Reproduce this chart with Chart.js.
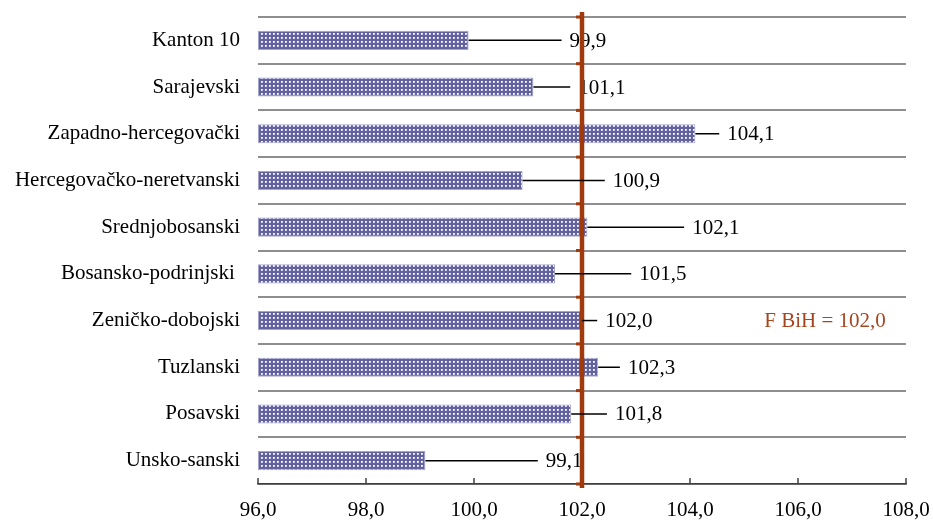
<!DOCTYPE html>
<html>
<head>
<meta charset="utf-8">
<script src="https://cdn.jsdelivr.net/npm/chart.js@4.4.1/dist/chart.umd.min.js"></script>
<style>
    html, body { margin: 0; padding: 0; background: #fff; }
</style>
</head>
<body>
<canvas id="myChart" width="933" height="521"></canvas>
<script>
    "use strict";

    var cantons = ['Kanton 10', 'Sarajevski', 'Zapadno-hercegovački', 'Hercegovačko-neretvanski',
        'Srednjobosanski', 'Bosansko-podrinjski ', 'Zeničko-dobojski', 'Tuzlanski', 'Posavski', 'Unsko-sanski'];
    var indexValues = [99.9, 101.1, 104.1, 100.9, 102.1, 101.5, 102.0, 102.3, 101.8, 99.1];
    // where each value label starts, in axis units (labels were moved by hand in the original)
    var labelAt = [101.77, 101.93, 104.69, 102.57, 104.04, 103.06, 102.43, 102.85, 102.61, 101.33];
    var fbihValue = 102.0;
    var fbihLabel = 'F BiH = 102,0';
    var fbihRow = 6;
    var fbihLabelAt = 106.5;

    var FONT = '"Liberation Serif", "Times New Roman", serif';

    function fmt(v) {
        return v.toFixed(1).replace('.', ',');
    }

    function dotPattern(ctx) {
        var c = document.createElement('canvas');
        c.width = 4; c.height = 4;
        var g = c.getContext('2d');
        g.fillStyle = '#62629f';
        g.fillRect(0, 0, 4, 4);
        g.fillStyle = '#ffffff';
        g.fillRect(1, 1, 1, 1);
        g.fillStyle = '#e2e2f0';
        g.fillRect(2, 1, 1, 1);
        g.fillRect(1, 2, 1, 1);
        g.fillStyle = '#c4c4de';
        g.fillRect(2, 2, 1, 1);
        return ctx.createPattern(c, 'repeat');
    }

    var annotations = {
        id: 'annotations',
        afterDatasetsDraw: function (chart) {
            var ctx = chart.ctx;
            var x = chart.scales.x, y = chart.scales.y, area = chart.chartArea;
            var meta = chart.getDatasetMeta(0);
            ctx.save();

            // small tick marks pointing into the plot
            ctx.strokeStyle = '#404040';
            ctx.lineWidth = 1.5;
            x.ticks.forEach(function (t) {
                var px = x.getPixelForValue(t.value);
                ctx.beginPath();
                ctx.moveTo(px, area.bottom);
                ctx.lineTo(px, area.bottom - 6);
                ctx.stroke();
            });

            // value labels
            ctx.font = '21px ' + FONT;
            ctx.fillStyle = '#000';
            ctx.textAlign = 'left';
            ctx.textBaseline = 'middle';
            meta.data.forEach(function (bar, i) {
                ctx.fillText(fmt(indexValues[i]), x.getPixelForValue(labelAt[i]), bar.y + 1);
            });

            // F BiH reference line
            var fx = x.getPixelForValue(fbihValue);
            ctx.strokeStyle = '#a0390c';
            ctx.lineWidth = 4.5;
            ctx.beginPath();
            ctx.moveTo(fx, area.top - 5);
            ctx.lineTo(fx, area.bottom + 4);
            ctx.stroke();
            ctx.fillStyle = '#a0390c';
            for (var k = 0; k <= cantons.length; k++) {
                var gy = y.getPixelForValue(k - 0.5);
                ctx.fillRect(fx - 6, gy - 1.5, 5, 3);
            }

            // leader lines
            ctx.strokeStyle = '#000';
            ctx.lineWidth = 1.5;
            meta.data.forEach(function (bar, i) {
                ctx.beginPath();
                ctx.moveTo(bar.x, bar.y);
                ctx.lineTo(x.getPixelForValue(labelAt[i]) - 8, bar.y);
                ctx.stroke();
            });

            ctx.fillStyle = '#a6461e';
            ctx.textAlign = 'center';
            ctx.fillText(fbihLabel, x.getPixelForValue(fbihLabelAt), y.getPixelForValue(fbihRow) + 1);
            ctx.restore();
        }
    };

    var ctx = document.getElementById('myChart').getContext('2d');
    var chart = new Chart(ctx, {
        type: 'bar',
        data: {
            labels: cantons,
            datasets: [{
                data: indexValues,
                base: 96,
                backgroundColor: dotPattern(ctx),
                borderColor: '#a4a4cc',
                borderWidth: 1,
                borderSkipped: false,
                barPercentage: 0.41,
                categoryPercentage: 1
            }]
        },
        options: {
            indexAxis: 'y',
            responsive: false,
            animation: false,
            events: [],
            layout: { padding: { top: 17, right: 27, left: 0, bottom: 0 } },
            plugins: {
                legend: { display: false },
                tooltip: { enabled: false }
            },
            scales: {
                x: {
                    min: 96,
                    max: 108,
                    afterFit: function (scale) {
                        scale.height = 37;
                        scale.paddingLeft = 0;
                        scale.paddingRight = 0;
                    },
                    ticks: {
                        stepSize: 2,
                        padding: 6,
                        color: '#000',
                        font: { family: FONT, size: 21 },
                        maxRotation: 0,
                        callback: function (v) { return fmt(v); }
                    },
                    grid: { display: false },
                    border: { display: true, color: '#404040', width: 1.5 }
                },
                y: {
                    afterFit: function (scale) {
                        scale.width = 258;
                        scale.paddingTop = 0;
                        scale.paddingBottom = 0;
                    },
                    ticks: {
                        padding: 18,
                        color: '#000',
                        font: { family: FONT, size: 21 }
                    },
                    grid: {
                        offset: true,
                        color: '#8e8e8e',
                        lineWidth: 2,
                        drawTicks: false
                    },
                    border: { display: false }
                }
            }
        },
        plugins: [annotations]
    });
</script>
</body>
</html>
